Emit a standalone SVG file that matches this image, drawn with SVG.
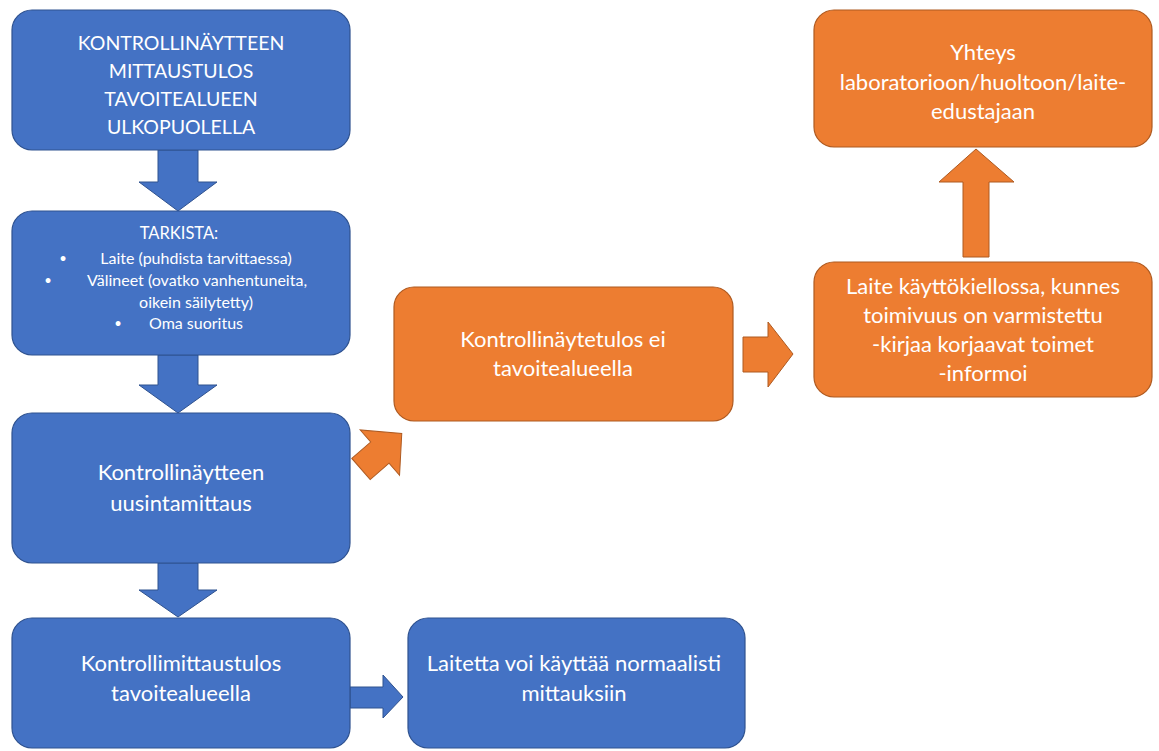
<svg xmlns="http://www.w3.org/2000/svg" width="1159" height="751" viewBox="0 0 1159 751">
<style>
.b{fill:#4472C4;stroke:#2F528F;stroke-width:1.2}
.o{fill:#ED7D31;stroke:#AE5A21;stroke-width:1.2}
.ba{fill:#4472C4;stroke:#2F528F;stroke-width:1}
.oa{fill:#ED7D31;stroke:#AE5A21;stroke-width:1}
text{font-family:Lato,"Open Sans","Liberation Sans",sans-serif;fill:#FFFFFF;text-anchor:middle}
.t22{font-size:22px}
.t19{font-size:19.5px}
.t17{font-size:16px}
.t16{font-size:16.5px}
.bu{font-size:13px}
</style>
<rect width="1159" height="751" fill="#FFFFFF"/>
<g id="connectors">
<polygon class="ba" points="158,150 198,150 198,182 217,182 178,211 139,182 158,182"/>
<polygon class="ba" points="158,355 198,355 198,385 217,385 178,413 139,385 158,385"/>
<polygon class="ba" points="158,563 198,563 198,590 217,590 178,617 139,590 158,590"/>
<polygon class="ba" points="350,687 383,687 383,675 403,697 383,718 383,708 350,708"/>
<polygon class="oa" transform="translate(361,469) rotate(-41)" points="0,-14 25,-14 25,-30 54,0 25,30 25,14 0,14"/>
<polygon class="oa" points="743,337 768,337 768,322 793,354 768,387 768,372 743,372"/>
<polygon class="oa" points="963,257 989,257 989,182 1014,182 976,149 939,182 963,182"/>
</g>
<g id="n1">
<rect class="b" x="12" y="10" width="338" height="140" rx="20"/>
<text class="t19" x="181" y="50">KONTROLLINÄYTTEEN</text>
<text class="t19" x="181" y="78">MITTAUSTULOS</text>
<text class="t19" x="181" y="106">TAVOITEALUEEN</text>
<text class="t19" x="181" y="134">ULKOPUOLELLA</text>
</g>
<g id="n2">
<rect class="b" x="12" y="211" width="338" height="144" rx="20"/>
<text class="t16" x="179" y="239">TARKISTA:</text>
<text class="bu" x="63" y="263">•</text>
<text class="t17" x="196" y="264">Laite (puhdista tarvittaessa)</text>
<text class="bu" x="48" y="285">•</text>
<text class="t17" x="197" y="286">Välineet (ovatko vanhentuneita,</text>
<text class="t17" x="196" y="308">oikein säilytetty)</text>
<text class="bu" x="118" y="328">•</text>
<text class="t17" x="196" y="329">Oma suoritus</text>
</g>
<g id="n3">
<rect class="b" x="12" y="413" width="338" height="150" rx="20"/>
<text class="t22" x="181" y="480">Kontrollinäytteen</text>
<text class="t22" x="181" y="511">uusintamittaus</text>
</g>
<g id="n4">
<rect class="b" x="12" y="618" width="338" height="130" rx="20"/>
<text class="t22" x="181" y="671">Kontrollimittaustulos</text>
<text class="t22" x="181" y="701">tavoitealueella</text>
</g>
<g id="n5">
<rect class="b" x="408" y="618" width="337" height="130" rx="20"/>
<text class="t22" x="574" y="671">Laitetta voi käyttää normaalisti</text>
<text class="t22" x="574" y="701">mittauksiin</text>
</g>
<g id="n6">
<rect class="o" x="394" y="287" width="339" height="134" rx="20"/>
<text class="t22" x="563" y="347">Kontrollinäytetulos ei</text>
<text class="t22" x="563" y="376">tavoitealueella</text>
</g>
<g id="n7">
<rect class="o" x="814" y="262" width="338" height="135" rx="20"/>
<text class="t22" x="983" y="294">Laite käyttökiellossa, kunnes</text>
<text class="t22" x="983" y="323">toimivuus on varmistettu</text>
<text class="t22" x="983" y="352">-kirjaa korjaavat toimet</text>
<text class="t22" x="983" y="381">-informoi</text>
</g>
<g id="n8">
<rect class="o" x="814" y="10" width="338" height="137" rx="20"/>
<text class="t22" x="983" y="60">Yhteys</text>
<text class="t22" x="983" y="90">laboratorioon/huoltoon/laite-</text>
<text class="t22" x="983" y="119">edustajaan</text>
</g>
</svg>
